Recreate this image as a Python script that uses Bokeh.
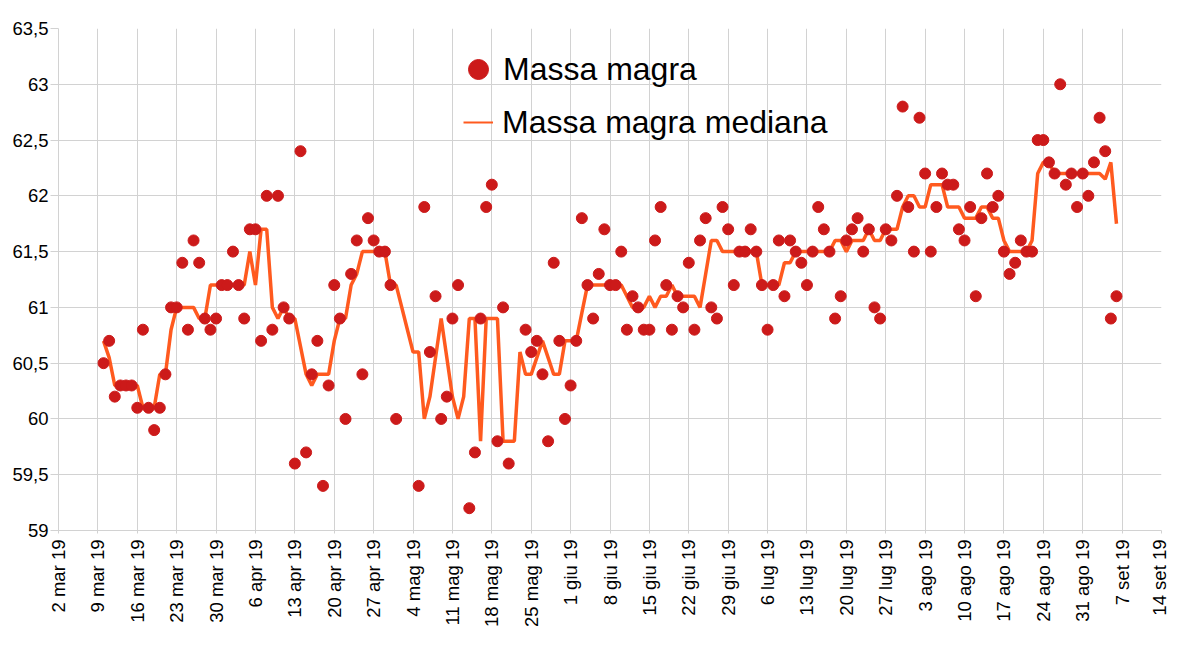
import math
import numpy as np
import pandas as pd
from bokeh.plotting import figure
from bokeh.models import (Range1d, FixedTicker, Legend, LegendItem,
                          ColumnDataSource, CustomJSTickFormatter)
from bokeh.embed import file_html
from bokeh.resources import INLINE

nan = float("nan")

# ---------------- data ----------------
first_day = "2019-03-10"   # first daily row

massa_mar = [60.5, 60.7, 60.2, 60.3, 60.3, 60.3, 60.1, 60.8, 60.1, 59.9, 60.1,
             60.4, 61.0, 61.0, 61.4, 60.8, 61.6, 61.4, 60.9, 60.8, 60.9, 61.2]
massa_apr = [61.2, 61.5, 61.2, 60.9, 61.7, 61.7, 60.7, 62.0, 60.8, 62.0,
             61.0, 60.9, 59.6, 62.4, 59.7, 60.4, 60.7, 59.4, 60.3, 61.2,
             60.9, 60.0, 61.3, 61.6, 60.4, 61.8, 61.6, 61.5, 61.5, 61.2]
massa_mag = [60.0, nan, nan, nan, 59.4, 61.9, 60.6, 61.1, 60.0, 60.2,
             60.9, 61.2, nan, 59.2, 59.7, 60.9, 61.9, 62.1, 59.8, 61.0,
             59.6, nan, nan, 60.8, 60.6, 60.7, 60.4, 59.8, 61.4, 60.7, 60.0]
massa_giu = [60.3, 60.7, 61.8, 61.2, 60.9, 61.3, 61.7, 61.2, 61.2, 61.5,
             60.8, 61.1, 61.0, 60.8, 60.8, 61.6, 61.9, 61.2, 60.8, 61.1,
             61.0, 61.4, 60.8, 61.6, 61.8, 61.0, 60.9, 61.9, 61.7, 61.2]
massa_lug = [61.5, 61.5, 61.7, 61.5, 61.2, 60.8, 61.2, 61.6, 61.1, 61.6,
             61.5, 61.4, 61.2, 61.5, 61.9, 61.7, 61.5, 60.9, 61.1, 61.6,
             61.7, 61.8, 61.5, 61.7, 61.0, 60.9, 61.7, 61.6, 62.0, 62.8, 61.9]
massa_ago = [61.5, 62.7, 62.2, 61.5, 61.9, 62.2, 62.1, 62.1, 61.7, 61.6,
             61.9, 61.1, 61.8, 62.2, 61.9, 62.0, 61.5, 61.3, 61.4, 61.6,
             61.5, 61.5, 62.5, 62.5, 62.3, 62.2, 63.0, 62.1, 62.2, 61.9, 62.2]
massa_set = [62.0, 62.3, 62.7, 62.4, 60.9, 61.1]

mediana_mar = [60.7, 60.55, 60.3, 60.3, 60.3, 60.3, 60.3, 60.1, 60.1, 60.1, 60.4,
               60.4, 60.8, 61.0, 61.0, 61.0, 61.0, 60.9, 60.9, 61.2, 61.2, 61.2]
mediana_apr = [61.2, 61.2, 61.2, 61.2, 61.5, 61.2, 61.7, 61.7, 61.0, 60.9,
               61.0, 60.9, 60.9, 60.65, 60.4, 60.3, 60.4, 60.4, 60.4, 60.7,
               60.9, 60.9, 61.2, 61.3, 61.5, 61.5, 61.5, 61.5, 61.5, 61.2]
mediana_mag = [61.2, 61.0, 60.8, 60.6, 60.6, 60.0, 60.2, 60.55, 60.9, 60.55,
               60.2, 60.0, 60.2, 60.9, 60.9, 59.8, 60.9, 60.9, 60.9, 59.8,
               59.8, 59.8, 60.6, 60.4, 60.4, 60.55, 60.7, 60.55, 60.4, 60.4, 60.7]
mediana_giu = [60.7, 60.7, 60.95, 61.2, 61.2, 61.2, 61.2, 61.2, 61.2, 61.2,
               61.1, 61.0, 61.0, 61.0, 61.1, 61.0, 61.1, 61.1, 61.2, 61.1,
               61.1, 61.1, 61.1, 61.0, 61.3, 61.6, 61.6, 61.5, 61.5, 61.5]
mediana_lug = [61.5, 61.5, 61.5, 61.5, 61.2, 61.2, 61.2, 61.2, 61.4, 61.4,
               61.5, 61.5, 61.5, 61.5, 61.5, 61.5, 61.5, 61.6, 61.6, 61.5,
               61.6, 61.6, 61.6, 61.7, 61.6, 61.6, 61.7, 61.7, 61.7, 61.9, 62.0]
mediana_ago = [62.0, 61.9, 61.9, 62.1, 62.1, 62.1, 61.9, 61.9, 61.9, 61.8,
               61.8, 61.8, 61.9, 61.9, 61.8, 61.8, 61.6, 61.5, 61.5, 61.5,
               61.5, 61.6, 62.2, 62.3, 62.3, 62.2, 62.2, 62.2, 62.2, 62.2, 62.2]
mediana_set = [62.2, 62.2, 62.2, 62.15, 62.3, 61.75]

x_tick_start = "2019-03-02"
x_tick_labels = ["2 mar 19", "9 mar 19", "16 mar 19", "23 mar 19", "30 mar 19",
                 "6 apr 19", "13 apr 19", "20 apr 19", "27 apr 19", "4 mag 19",
                 "11 mag 19", "18 mag 19", "25 mag 19", "1 giu 19", "8 giu 19",
                 "15 giu 19", "22 giu 19", "29 giu 19", "6 lug 19", "13 lug 19",
                 "20 lug 19", "27 lug 19", "3 ago 19", "10 ago 19", "17 ago 19",
                 "24 ago 19", "31 ago 19", "7 set 19", "14 set 19"]
y_ticks = [59, 59.5, 60, 60.5, 61, 61.5, 62, 62.5, 63, 63.5]
y_tick_labels = ["59", "59,5", "60", "60,5", "61", "61,5", "62", "62,5", "63", "63,5"]

series_labels = ["Massa magra", "Massa magra mediana"]

# ---------------- build ----------------
massa = massa_mar + massa_apr + massa_mag + massa_giu + massa_lug + massa_ago + massa_set
mediana = mediana_mar + mediana_apr + mediana_mag + mediana_giu + mediana_lug + mediana_ago + mediana_set
dates = pd.date_range(first_day, periods=len(massa), freq="D")

def ms(ts):
    return pd.Timestamp(ts).value / 1e6

tick_pos = [ms(t) for t in pd.date_range(x_tick_start, periods=len(x_tick_labels), freq="7D")]

src = ColumnDataSource(dict(x=dates, massa=massa, mediana=mediana))

FONT = "Liberation Sans"
GRID = "#d2d2d2"

p = figure(width=1169, height=638, x_axis_type="datetime",
           output_backend="svg", toolbar_location=None,
           x_range=Range1d(tick_pos[0], tick_pos[-1]),
           y_range=Range1d(y_ticks[0], y_ticks[-1]),
           min_border_left=58, min_border_right=8,
           min_border_top=28, min_border_bottom=108)
p.outline_line_color = None
p.background_fill_color = "white"
p.border_fill_color = "white"

xt = FixedTicker(ticks=tick_pos)
yt = FixedTicker(ticks=y_ticks)
p.xaxis.ticker = xt
p.yaxis.ticker = yt
p.xgrid.ticker = xt
p.ygrid.ticker = yt
p.xgrid.grid_line_color = GRID
p.ygrid.grid_line_color = GRID

p.xaxis.formatter = CustomJSTickFormatter(args=dict(pos=tick_pos, labels=x_tick_labels), code="""
    for (let i = 0; i < pos.length; i++) { if (Math.abs(pos[i] - tick) < 1000) return labels[i]; }
    return "";
""")
p.yaxis.formatter = CustomJSTickFormatter(args=dict(pos=y_ticks, labels=y_tick_labels), code="""
    for (let i = 0; i < pos.length; i++) { if (Math.abs(pos[i] - tick) < 1e-6) return labels[i]; }
    return "";
""")

for ax in (p.xaxis, p.yaxis):
    ax.axis_line_color = GRID
    ax.major_tick_line_color = GRID
    ax.minor_tick_line_color = None
    ax.major_tick_in = 0
    ax.major_label_text_font = FONT
    ax.major_label_text_font_size = "18.5px"
    ax.major_label_text_color = "black"
p.xaxis.major_tick_out = 3
p.xaxis.major_label_standoff = 6
p.xaxis.major_label_orientation = math.pi / 2
p.yaxis.major_tick_out = 8
p.yaxis.major_label_standoff = 2

line_r = p.line("x", "mediana", source=src, line_color="#ff5a1f", line_width=3.5)
pts_r = p.scatter("x", "massa", source=src, marker="circle", size=11,
                  fill_color="#cc1a1a", line_color="#cc1a1a")

# legend-only line (no visible data) with the thin stroke of the reference legend
leg_src = ColumnDataSource(dict(x=[nan], y=[nan]))
leg_line = p.line("x", "y", source=leg_src, line_color="#ff5a1f", line_width=2)

leg1 = Legend(items=[LegendItem(label=series_labels[0], renderers=[pts_r])],
              location=(395, 436), glyph_width=50, glyph_height=50,
              label_standoff=0, padding=0, margin=0, spacing=0,
              border_line_color=None, background_fill_alpha=0,
              label_text_font=FONT, label_text_font_size="32px",
              label_text_color="black")
leg2 = Legend(items=[LegendItem(label=series_labels[1], renderers=[leg_line])],
              location=(405, 388), glyph_width=30, glyph_height=40,
              label_standoff=9, padding=0, margin=0, spacing=0,
              border_line_color=None, background_fill_alpha=0,
              label_text_font=FONT, label_text_font_size="32px",
              label_text_color="black")
p.add_layout(leg1)
p.add_layout(leg2)

open("out.html", "w").write(file_html(p, INLINE))
